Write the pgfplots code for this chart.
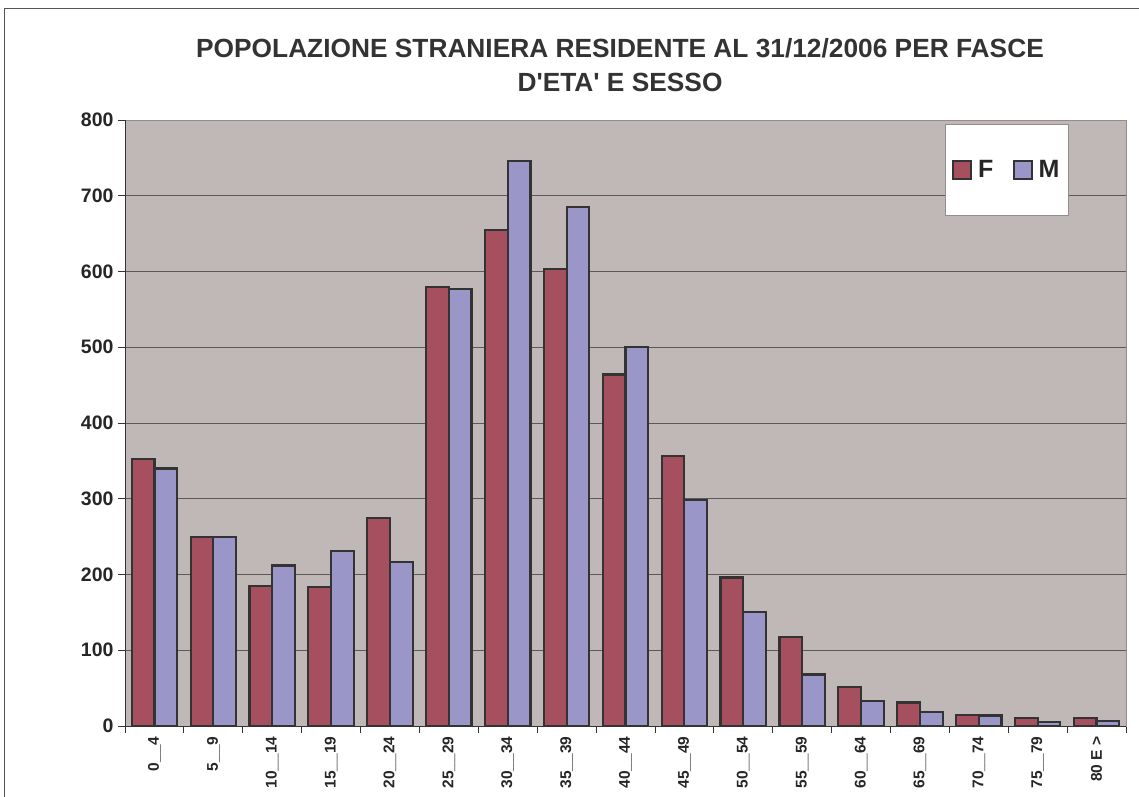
\documentclass[border=0pt]{standalone}
\usepackage{pgfplots}
\pgfplotsset{compat=1.18}
\usepackage{fontspec}
\setmainfont{Liberation Sans}
\definecolor{bg}{HTML}{C0B8B6}
\definecolor{fcol}{HTML}{A64F5E}
\definecolor{mcol}{HTML}{9B96C8}
\definecolor{edge}{HTML}{333333}
\definecolor{frame}{HTML}{555555}
\definecolor{axgray}{HTML}{958B8B}
\begin{document}
\begin{tikzpicture}[x=1pt,y=1pt]
\useasboundingbox (0,0) rectangle (1139,796);
\draw[color=frame, line width=1pt] (4,787) rectangle (1150,-10);
\node[font=\bfseries\fontsize{26.3}{34}\selectfont, align=center, text=black!80] at (620,731) {POPOLAZIONE STRANIERA RESIDENTE AL 31/12/2006 PER FASCE\\D\textquotesingle ETA\textquotesingle{} E SESSO};
\begin{axis}[
  at={(125pt,70pt)}, anchor=south west,
  width=1001pt, height=606pt, scale only axis,
  axis background/.style={fill=bg},
  ybar=0pt, bar width=22.7pt,
  xmin=-0.5, xmax=16.5, ymin=0, ymax=800,
  ytick={0,100,...,800},
  xtick={0,...,16},
  xticklabels={0\_\_4,5\_\_9,10\_\_14,15\_\_19,20\_\_24,25\_\_29,30\_\_34,35\_\_39,40\_\_44,45\_\_49,50\_\_54,55\_\_59,60\_\_64,65\_\_69,70\_\_74,75\_\_79,80 E >},
  minor xtick={-0.5,0.5,...,16.5},
  major x tick style={draw=none},
  minor tick length=7pt,
  major tick length=7pt,
  tick align=outside,
  tick style={color=black!80, line width=0.8pt},
  xtick pos=bottom, ytick pos=left,
  ymajorgrids, grid style={color=black!65, line width=0.9pt},
  axis line style={color=axgray, line width=1pt},
  x tick label style={rotate=90, anchor=east, font=\bfseries\fontsize{15.5}{17}\selectfont, text=black!85},
  y tick label style={font=\bfseries\fontsize{19.5}{22}\selectfont, text=black!85, xshift=-1pt},
  /pgf/number format/assume math mode=true,
  legend style={at={(0.819,0.993)}, anchor=north west, fill=white, draw=axgray, line width=0.8pt,
    inner xsep=7pt, inner ysep=34pt, font=\bfseries\fontsize{25}{28}\selectfont, text=black!85,
    /tikz/every even column/.append style={column sep=17pt}},
  legend columns=2,
  legend image code/.code={\draw[#1, line width=2pt] (0pt,-9pt) rectangle (18pt,9pt);},
  clip=false,
]
\addplot[fill=fcol, draw=edge, line width=2.2pt] coordinates {
(0,352) (1,249) (2,185) (3,184) (4,275) (5,580) (6,655) (7,603) (8,464) (9,356) (10,196) (11,117) (12,51) (13,31) (14,15) (15,11) (16,11)};
\addplot[fill=mcol, draw=edge, line width=2.2pt] coordinates {
(0,340) (1,250) (2,212) (3,231) (4,216) (5,577) (6,746) (7,685) (8,500) (9,298) (10,150) (11,68) (12,33) (13,18) (14,14) (15,5) (16,7)};
\addlegendentry{\hspace{4pt}F}
\addlegendentry{\hspace{4pt}M}
\draw[color=black!80, line width=1pt] (rel axis cs:0,1) -- (rel axis cs:0,0) -- (rel axis cs:1,0);
\end{axis}
\end{tikzpicture}
\end{document}
